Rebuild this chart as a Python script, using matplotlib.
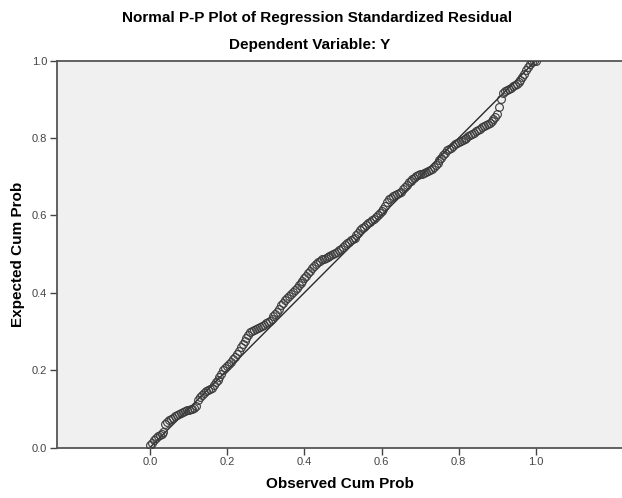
import matplotlib

matplotlib.use("Agg")
import matplotlib.pyplot as plt

# observed cumulative probability (x) and expected cumulative probability (y)
observed = [
    0.000, 0.005, 0.010, 0.015, 0.020, 0.025, 0.030, 0.035, 0.040, 0.045,
    0.050, 0.055, 0.060, 0.065, 0.070, 0.075, 0.080, 0.085, 0.090, 0.095,
    0.100, 0.105, 0.110, 0.115, 0.120, 0.125, 0.130, 0.135, 0.140, 0.145,
    0.150, 0.155, 0.160, 0.165, 0.170, 0.175, 0.180, 0.185, 0.190, 0.195,
    0.200, 0.205, 0.210, 0.215, 0.220, 0.225, 0.230, 0.235, 0.240, 0.245,
    0.250, 0.255, 0.260, 0.265, 0.270, 0.275, 0.280, 0.285, 0.290, 0.295,
    0.300, 0.305, 0.310, 0.315, 0.320, 0.325, 0.330, 0.335, 0.340, 0.345,
    0.350, 0.355, 0.360, 0.365, 0.370, 0.375, 0.380, 0.385, 0.390, 0.395,
    0.400, 0.405, 0.410, 0.415, 0.420, 0.425, 0.430, 0.435, 0.440, 0.445,
    0.450, 0.455, 0.460, 0.465, 0.470, 0.475, 0.480, 0.485, 0.490, 0.495,
    0.500, 0.505, 0.510, 0.515, 0.520, 0.525, 0.530, 0.535, 0.540, 0.545,
    0.550, 0.555, 0.560, 0.565, 0.570, 0.575, 0.580, 0.585, 0.590, 0.595,
    0.600, 0.605, 0.610, 0.615, 0.620, 0.625, 0.630, 0.635, 0.640, 0.645,
    0.650, 0.655, 0.660, 0.665, 0.670, 0.675, 0.680, 0.685, 0.690, 0.695,
    0.700, 0.705, 0.710, 0.715, 0.720, 0.725, 0.730, 0.735, 0.740, 0.745,
    0.750, 0.755, 0.760, 0.765, 0.770, 0.775, 0.780, 0.785, 0.790, 0.795,
    0.800, 0.805, 0.810, 0.815, 0.820, 0.825, 0.830, 0.835, 0.840, 0.845,
    0.850, 0.855, 0.860, 0.865, 0.870, 0.875, 0.880, 0.885, 0.890, 0.895,
    0.900, 0.905, 0.910, 0.915, 0.920, 0.925, 0.930, 0.935, 0.940, 0.945,
    0.950, 0.955, 0.960, 0.965, 0.970, 0.975, 0.980, 0.985, 0.990, 0.995,
    1.000,
]
expected = [
    0.006, 0.012, 0.020, 0.025, 0.029, 0.032, 0.035, 0.040, 0.062, 0.066,
    0.070, 0.073, 0.077, 0.081, 0.084, 0.087, 0.089, 0.092, 0.094, 0.096,
    0.097, 0.099, 0.100, 0.102, 0.108, 0.122, 0.130, 0.135, 0.140, 0.145,
    0.149, 0.152, 0.155, 0.162, 0.168, 0.175, 0.181, 0.190, 0.201, 0.206,
    0.211, 0.216, 0.222, 0.228, 0.234, 0.242, 0.250, 0.259, 0.268, 0.276,
    0.283, 0.291, 0.298, 0.301, 0.303, 0.306, 0.308, 0.311, 0.314, 0.317,
    0.321, 0.324, 0.328, 0.333, 0.339, 0.345, 0.351, 0.359, 0.367, 0.374,
    0.380, 0.386, 0.391, 0.397, 0.402, 0.408, 0.413, 0.419, 0.425, 0.431,
    0.437, 0.444, 0.451, 0.457, 0.463, 0.469, 0.475, 0.479, 0.483, 0.486,
    0.488, 0.490, 0.492, 0.495, 0.498, 0.500, 0.503, 0.506, 0.510, 0.514,
    0.519, 0.524, 0.528, 0.531, 0.535, 0.538, 0.542, 0.548, 0.554, 0.561,
    0.567, 0.571, 0.575, 0.579, 0.583, 0.587, 0.591, 0.596, 0.600, 0.605,
    0.610, 0.616, 0.623, 0.634, 0.642, 0.646, 0.650, 0.653, 0.655, 0.658,
    0.661, 0.667, 0.673, 0.679, 0.685, 0.689, 0.693, 0.697, 0.701, 0.704,
    0.706, 0.708, 0.709, 0.711, 0.714, 0.717, 0.720, 0.724, 0.729, 0.735,
    0.742, 0.749, 0.755, 0.762, 0.768, 0.772, 0.775, 0.779, 0.783, 0.786,
    0.789, 0.792, 0.795, 0.798, 0.801, 0.804, 0.807, 0.810, 0.813, 0.817,
    0.820, 0.824, 0.827, 0.830, 0.833, 0.836, 0.839, 0.843, 0.849, 0.855,
    0.863, 0.880, 0.900, 0.915, 0.920, 0.923, 0.926, 0.930, 0.933, 0.936,
    0.940, 0.945, 0.950, 0.957, 0.965, 0.975, 0.984, 0.990, 0.995, 0.998,
    1.000,
]
ref_line = [0.0, 1.0]
tick_values = [0.0, 0.2, 0.4, 0.6, 0.8, 1.0]
tick_labels = ["0.0", "0.2", "0.4", "0.6", "0.8", "1.0"]

plt.rcParams["font.family"] = ["Liberation Sans", "DejaVu Sans"]

fig = plt.figure(figsize=(6.22, 4.98), dpi=100)
ax = fig.add_axes([0.0916, 0.1014, 0.9084, 0.7771])
ax.set_facecolor("#f0f0f0")

ax.plot(ref_line, ref_line, color="#2a2a2a", lw=1.0, zorder=2)
ax.plot(
    observed,
    expected,
    ls="none",
    marker="o",
    markersize=5.6,
    markerfacecolor="none",
    markeredgecolor="#3a3a3a",
    markeredgewidth=0.8,
    zorder=3,
)

ax.set_xlim(-0.241, 1.223)
ax.set_ylim(0.0, 1.0)
ax.set_xticks(tick_values)
ax.set_xticklabels(tick_labels)
ax.set_yticks(tick_values)
ax.set_yticklabels(tick_labels)
ax.tick_params(axis="both", direction="out", length=5, width=1.0, color="#444444",
               labelsize=8, labelcolor="#444444", pad=2)

for side in ["left", "bottom", "top"]:
    ax.spines[side].set_color("#555555")
    ax.spines[side].set_linewidth(1.3)
ax.spines["right"].set_visible(False)

ax.set_xlabel("Observed Cum Prob", fontsize=11, fontweight="bold", labelpad=7)
ax.set_ylabel("Expected Cum Prob", fontsize=11, fontweight="bold", labelpad=5)

fig.text(0.51, 0.963, "Normal P-P Plot of Regression Standardized Residual",
         ha="center", va="center", fontsize=11, fontweight="bold")
fig.text(0.497, 0.91, "Dependent Variable: Y",
         ha="center", va="center", fontsize=11, fontweight="bold")

fig.savefig("out.png", dpi=100)
